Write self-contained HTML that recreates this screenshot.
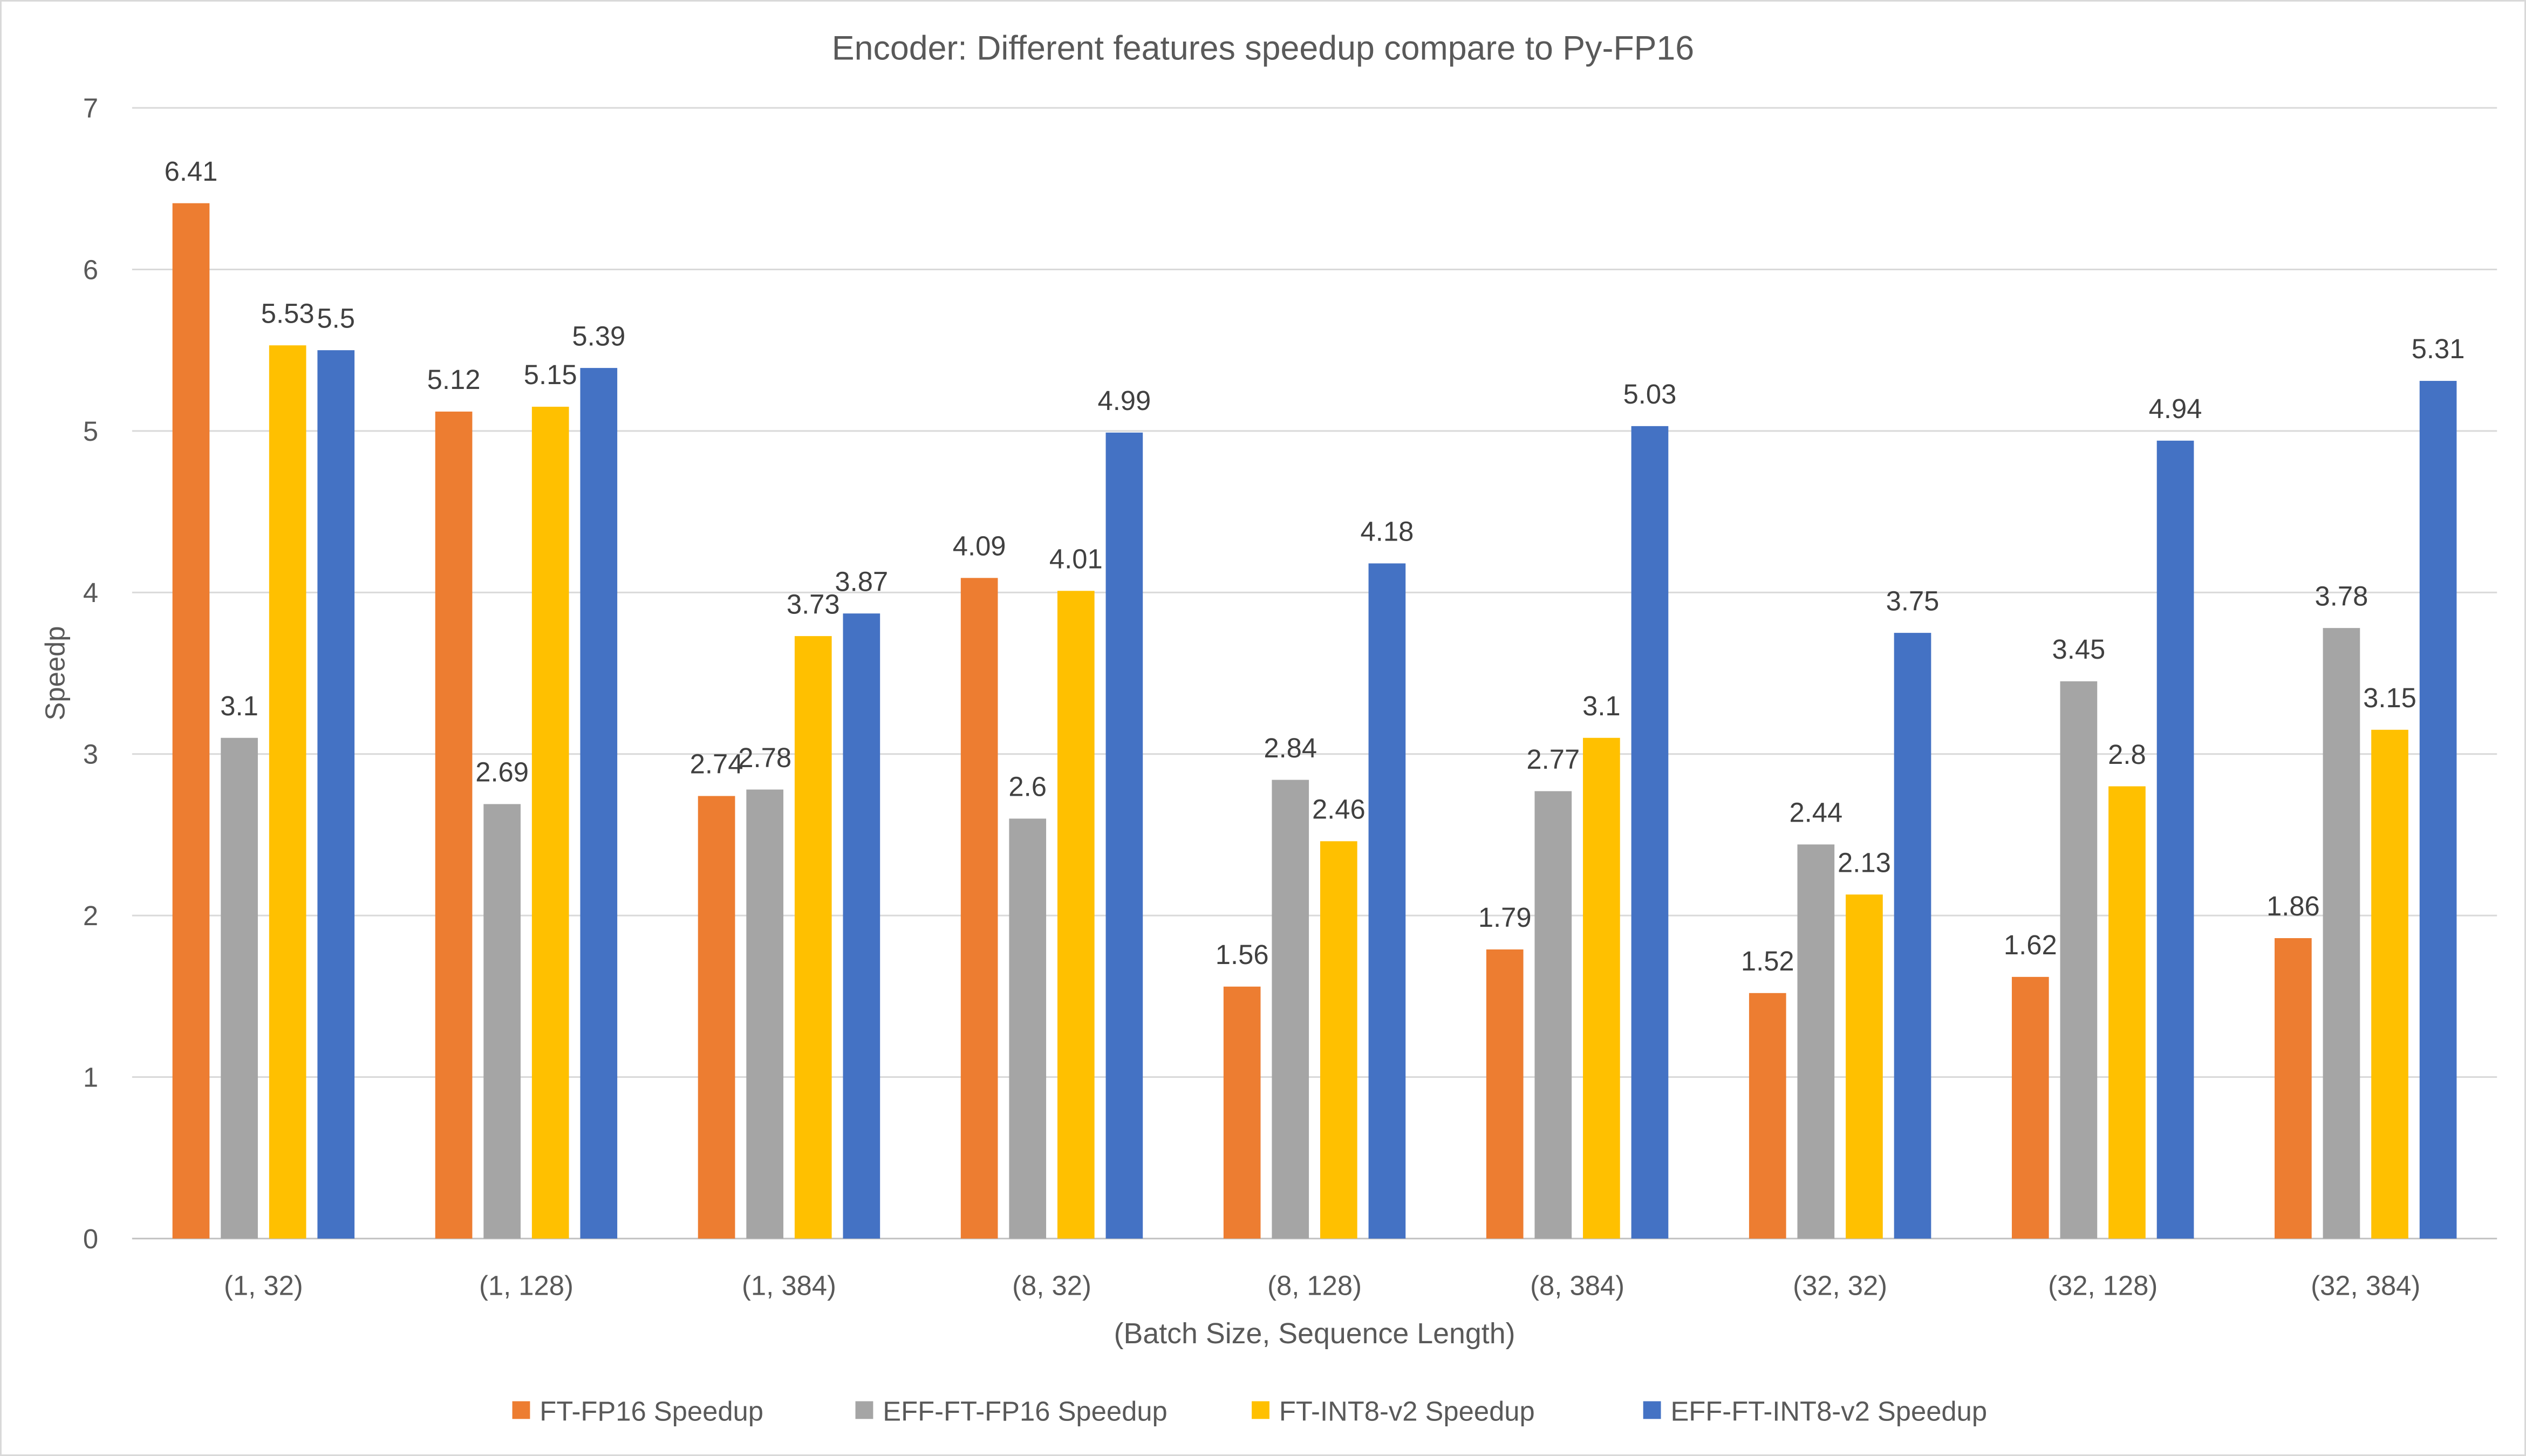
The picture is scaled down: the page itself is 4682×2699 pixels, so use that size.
<!DOCTYPE html>
<html><head><meta charset="utf-8">
<style>
html,body{margin:0;padding:0;background:#fff;}
svg{display:block;}
text{font-family:"Liberation Sans",sans-serif;fill:#595959;}
</style></head>
<body>
<svg id="chart" width="4682" height="2699" viewBox="0 0 1568 904" preserveAspectRatio="none" xmlns="http://www.w3.org/2000/svg">
<rect x="0.5" y="0.5" width="1567" height="903" fill="#fff" stroke="#d9d9d9"/>
<text x="784" y="37" text-anchor="middle" font-size="21">Encoder: Different features speedup compare to Py-FP16</text>
<g id="grid"></g>
<g id="bars"></g>
<g id="labels"></g>
<text transform="translate(40,418) rotate(-90)" text-anchor="middle" font-size="17">Speedp</text>
<text x="816" y="834" text-anchor="middle" font-size="18">(Batch Size, Sequence Length)</text>
<g id="legend"></g>
</svg>
<script>
const categories = ["(1, 32)","(1, 128)","(1, 384)","(8, 32)","(8, 128)","(8, 384)","(32, 32)","(32, 128)","(32, 384)"];
const seriesNames = ["FT-FP16 Speedup","EFF-FT-FP16 Speedup","FT-INT8-v2 Speedup","EFF-FT-INT8-v2 Speedup"];
const ftFp16 = [6.41,5.12,2.74,4.09,1.56,1.79,1.52,1.62,1.86];
const effFtFp16 = [3.1,2.69,2.78,2.6,2.84,2.77,2.44,3.45,3.78];
const ftInt8 = [5.53,5.15,3.73,4.01,2.46,3.1,2.13,2.8,3.15];
const effFtInt8 = [5.5,5.39,3.87,4.99,4.18,5.03,3.75,4.94,5.31];
const yTicks = [0,1,2,3,4,5,6,7];
const colors = ["#ED7D31","#A5A5A5","#FFC000","#4472C4"];
const series = [ftFp16, effFtFp16, ftInt8, effFtInt8];
const NS = "http://www.w3.org/2000/svg";
const x0 = 82, x1 = 1550, yBase = 769, yTop = 67, yMax = 7;
const band = (x1 - x0) / categories.length;
function yScale(v){ return yBase - (v / yMax) * (yBase - yTop); }
function xCenter(i){ return x0 + band * (i + 0.5); }
function mk(tag, attrs, parent){ const e = document.createElementNS(NS, tag); for (const k in attrs) e.setAttribute(k, attrs[k]); parent.appendChild(e); return e; }
const grid = document.getElementById("grid");
yTicks.forEach(t => {
  const y = yScale(t);
  const l = mk("line", {x1: x0, x2: x1, y1: y, y2: y, stroke: t === 0 ? "#bfbfbf" : "#d9d9d9", "stroke-width": 1}, grid);
  
  
  const tx = mk("text", {x: 61, y: y + 6, "text-anchor": "end", "font-size": 17}, grid);
  tx.textContent = t;
  
  
});
const bars = document.getElementById("bars"), labels = document.getElementById("labels");
const barW = 23, step = 30;
categories.forEach((c, i) => {
  const cx = xCenter(i);
  series.forEach((s, j) => {
    const v = s[i];
    const bx = cx + (j - 1.5) * step - barW / 2;
    const r = mk("rect", {x: bx, y: yScale(v), width: barW, height: yBase - yScale(v), fill: colors[j]}, bars);
    
    
    const t = mk("text", {x: bx + barW / 2, y: yScale(v) - 14, "text-anchor": "middle", "font-size": 17}, labels);
    t.style.fill = "#404040";
    t.textContent = v;
    
    
  });
  const xl = mk("text", {x: cx, y: 804, "text-anchor": "middle", "font-size": 17}, labels);
  xl.textContent = c;
  
  
});
const legend = document.getElementById("legend");
const legX = [318, 531, 777, 1020];
seriesNames.forEach((n, j) => {
  const g = mk("g", {}, legend);
  
  
  mk("rect", {x: legX[j], y: 870, width: 11, height: 11, fill: colors[j]}, g);
  const t = mk("text", {x: legX[j] + 17, y: 882, "font-size": 17}, g);
  t.textContent = n;
});
</script>
</body></html>
